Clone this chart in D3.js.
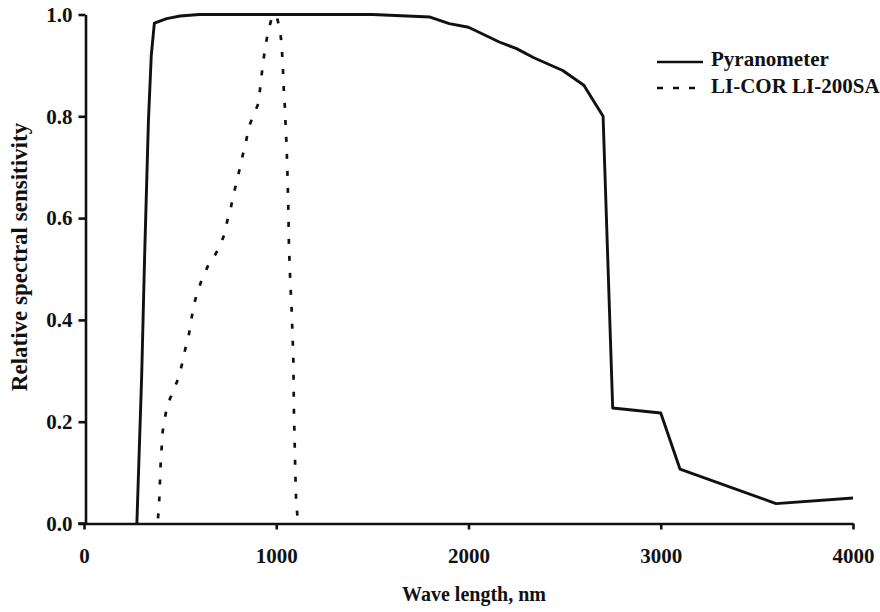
<!DOCTYPE html>
<html>
<head>
<meta charset="utf-8">
<script src="https://cdn.jsdelivr.net/npm/d3@7"></script>
<style>
  html, body { margin: 0; padding: 0; background: #fff; }
  svg { display: block; }
  text { font-family: "Liberation Serif", "Times New Roman", serif; font-weight: bold; fill: #111; }
</style>
</head>
<body>
<svg id="chart" width="880" height="612"></svg>
<script>
// ---- Data ----
const xTicks = [0, 1000, 2000, 3000, 4000];
const yTicks = [0.0, 0.2, 0.4, 0.6, 0.8, 1.0];
const seriesNames = ["Pyranometer", "LI-COR LI-200SA"];

// Pyranometer: [wavelength nm, relative sensitivity]
const pyranometer = [
  [275, 0.0], [300, 0.29], [315, 0.52], [335, 0.79], [350, 0.92], [366, 0.983],
  [430, 0.992], [500, 0.997], [600, 1.0], [1000, 1.0], [1500, 1.0],
  [1800, 0.995], [1900, 0.982], [2000, 0.975], [2160, 0.946], [2250, 0.933],
  [2340, 0.915], [2490, 0.89], [2600, 0.861], [2700, 0.8],
  [2750, 0.227], [3000, 0.217], [3100, 0.107], [3600, 0.039], [4000, 0.05]
];

// LI-COR LI-200SA: [wavelength nm, relative sensitivity]
const licor = [
  [385, 0.01], [392, 0.05], [399, 0.12], [409, 0.18], [427, 0.22], [447, 0.245],
  [470, 0.265], [490, 0.285], [508, 0.31], [525, 0.34], [546, 0.372], [569, 0.425],
  [586, 0.45], [607, 0.473], [629, 0.493], [652, 0.512], [681, 0.527], [707, 0.545],
  [728, 0.566], [745, 0.594], [763, 0.619], [777, 0.645], [794, 0.671], [808, 0.694],
  [825, 0.723], [841, 0.746], [857, 0.779], [884, 0.804], [907, 0.825], [915, 0.851],
  [924, 0.881], [933, 0.91], [945, 0.94], [959, 0.969], [976, 0.992], [988, 1.0],
  [1002, 0.997], [1020, 0.969], [1028, 0.94], [1033, 0.907], [1037, 0.874],
  [1040, 0.845], [1046, 0.812], [1049, 0.779], [1054, 0.741], [1059, 0.676],
  [1063, 0.616], [1066, 0.547], [1072, 0.485], [1080, 0.42], [1089, 0.322],
  [1092, 0.22], [1098, 0.121], [1103, 0.047], [1111, 0.01]
];

// ---- Layout ----
const svg = d3.select("#chart");
const x = d3.scaleLinear().domain([0, 4000]).range([84, 853]);
const y = d3.scaleLinear().domain([0, 1]).range([523.5, 14.5]);
const ink = "#111";

// Axes
const xAxis = d3.axisBottom(x).tickValues(xTicks).tickFormat(d3.format("d"))
  .tickSize(6).tickSizeOuter(0).tickPadding(19);
const yAxis = d3.axisLeft(y).tickValues(yTicks).tickFormat(d3.format(".1f"))
  .tickSize(7).tickSizeOuter(0).tickPadding(6);

const gx = svg.append("g").attr("transform", `translate(0,${y(0)})`).call(xAxis);
const gy = svg.append("g").attr("transform", `translate(${x(0) + 1.5},0)`).call(yAxis);

[gx, gy].forEach(g => {
  g.select(".domain").attr("stroke", ink).attr("stroke-width", 2.6);
  g.selectAll(".tick line").attr("stroke", ink).attr("stroke-width", 2.6);
  g.selectAll(".tick text").attr("font-size", 21).attr("fill", ink)
    .style("font-family", "'Liberation Serif', serif").style("font-weight", "bold");
});
// extend x-axis line left to meet the 0.0 tick
svg.append("line").attr("x1", 78).attr("x2", x(0) + 2).attr("y1", y(0)).attr("y2", y(0))
  .attr("stroke", ink).attr("stroke-width", 2.6);

// Lines
const line = d3.line().x(d => x(d[0])).y(d => y(d[1]));

svg.append("path").datum(pyranometer).attr("d", line)
  .attr("fill", "none").attr("stroke", ink).attr("stroke-width", 2.9)
  .attr("stroke-linejoin", "round");

svg.append("path").datum(licor).attr("d", line)
  .attr("fill", "none").attr("stroke", ink).attr("stroke-width", 2.7)
  .attr("stroke-dasharray", "5,12");

// Axis titles
svg.append("text").attr("x", 474).attr("y", 601).attr("text-anchor", "middle")
  .attr("font-size", 20).text("Wave length, nm");
svg.append("text").attr("transform", "translate(27,257) rotate(-90)")
  .attr("text-anchor", "middle").attr("font-size", 23).text("Relative spectral sensitivity");

// Legend
const legend = svg.append("g");
legend.append("line").attr("x1", 657).attr("x2", 703).attr("y1", 62).attr("y2", 62)
  .attr("stroke", ink).attr("stroke-width", 2.6);
legend.append("line").attr("x1", 657).attr("x2", 703).attr("y1", 88).attr("y2", 88)
  .attr("stroke", ink).attr("stroke-width", 2.6).attr("stroke-dasharray", "6,10");
legend.append("text").attr("x", 711).attr("y", 66).attr("font-size", 21).text(seriesNames[0]);
legend.append("text").attr("x", 711).attr("y", 93).attr("font-size", 21).text(seriesNames[1]);
</script>
</body>
</html>
